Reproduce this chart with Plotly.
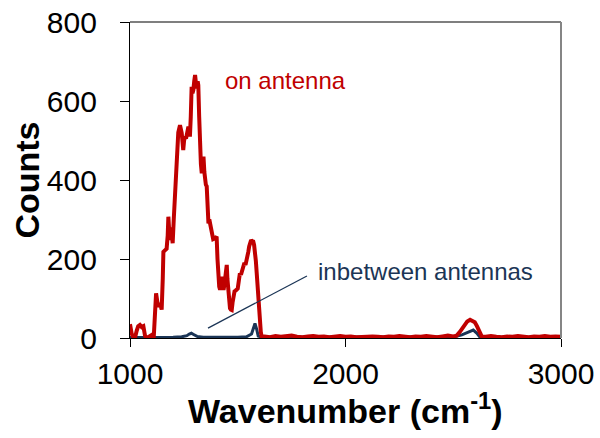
import plotly.graph_objects as go

# ---- data ----
on_x = [1000, 1008, 1016, 1023, 1031, 1038, 1046, 1054, 1062, 1070, 1079, 1090, 1102, 1110,
        1116, 1121, 1126, 1131, 1139, 1147, 1152, 1155, 1162, 1170, 1175, 1178, 1182, 1186,
        1190, 1194, 1198, 1203, 1209, 1213, 1217, 1224, 1232, 1236, 1240, 1244, 1247, 1251,
        1255, 1260, 1266, 1271, 1275, 1278, 1282, 1286, 1290, 1294, 1298, 1302, 1306, 1310,
        1314, 1317, 1321, 1325, 1329, 1333, 1337, 1341, 1345, 1348, 1352, 1356, 1360, 1364,
        1368, 1372, 1379, 1386, 1394, 1402, 1406, 1410, 1414, 1418, 1422, 1426, 1430, 1434,
        1438, 1442, 1449, 1452, 1456, 1460, 1464, 1468, 1472, 1476, 1480, 1485, 1490, 1495,
        1500, 1505, 1510, 1515, 1520, 1526, 1531, 1536, 1541, 1545, 1549, 1553, 1557, 1562,
        1567, 1572, 1576, 1580, 1584, 1588, 1592, 1595, 1599, 1603, 1607, 1611,
        1625, 1650, 1675, 1700, 1725, 1750, 1775, 1800, 1825, 1850, 1875, 1900, 1925, 1950,
        1975, 2000, 2025, 2050, 2075, 2100, 2125, 2150, 2175, 2200, 2225, 2250, 2275, 2300,
        2325, 2350, 2375, 2400, 2425, 2450, 2475, 2500,
        2516, 2530, 2545, 2555, 2565, 2578, 2590, 2600, 2610, 2620, 2632,
        2650, 2675, 2700, 2725, 2750, 2775, 2800, 2825, 2850, 2875, 2900, 2925, 2950, 2975, 3000]
on_y = [35, 10, 2, 0, 18, 30, 33, 28, 30, 5, 0, 3, 8, 0,
        60, 113, 95, 79, 88, 72, 150, 218, 222, 226, 260, 307, 270, 248,
        280, 266, 240, 300, 366, 430, 493, 520, 539, 530, 519, 495, 476, 500,
        510, 505, 520, 535, 525, 510, 560, 636, 620, 628, 650, 666, 645, 632,
        650, 640, 560, 459, 440, 417, 450, 459, 420, 392, 388, 384, 340, 290,
        300, 285, 265, 250, 252, 257, 200, 147, 130, 122, 140, 155, 130, 122,
        135, 150, 185, 150, 113, 90, 75, 72, 71, 90, 109, 118, 120, 122,
        125, 145, 164, 160, 175, 181, 190, 185, 198, 205, 218, 232, 244, 248,
        245, 244, 235, 222, 195, 164, 130, 97, 65, 37, 15, 3,
        4, 2, 5, 3, 4, 6, 3, 2, 4, 5, 3, 4, 2, 3,
        5, 3, 4, 2, 3, 5, 4, 3, 2, 4, 3, 5, 3, 2,
        4, 3, 5, 3, 2, 4, 6, 4,
        6, 15, 25, 35, 42, 46, 44, 40, 30, 18, 4,
        3, 5, 3, 2, 4, 3, 5, 3, 2, 4, 3, 5, 3, 4, 3]

between_x = [1000, 1050, 1100, 1150, 1200, 1240, 1264, 1275, 1285, 1295, 1311, 1340, 1400,
             1450, 1500, 1540, 1564, 1572, 1580, 1588, 1595, 1610, 1650, 1700, 1800, 1900,
             2000, 2100, 2200, 2300, 2400, 2480, 2510, 2540, 2570, 2593, 2610, 2624, 2660,
             2750, 2850, 2950, 3000]
between_y = [1, 1, 2, 2, 2, 3, 6, 10, 12, 9, 4, 2, 3,
             2, 2, 3, 10, 25, 37, 22, 5, 2, 2, 2, 2, 2,
             2, 2, 2, 2, 2, 3, 4, 8, 15, 20, 12, 2, 2,
             2, 2, 2, 2]

series_names = ["on antenna", "inbetween antennas"]
x_ticks = [1000, 2000, 3000]
y_ticks = [0, 200, 400, 600, 800]

RED = "#C00000"
NAVY = "#1B3556"
FONT = "Liberation Sans, Arial, sans-serif"

fig = go.Figure()
fig.add_trace(go.Scatter(x=between_x, y=between_y, mode="lines", name=series_names[1],
                         line=dict(color=NAVY, width=3)))
fig.add_trace(go.Scatter(x=on_x, y=on_y, mode="lines", name=series_names[0],
                         line=dict(color=RED, width=4)))

fig.update_layout(
    width=600, height=438,
    margin=dict(l=130, r=39, t=22, b=100),
    paper_bgcolor="white", plot_bgcolor="white",
    showlegend=False,
    font=dict(family=FONT, color="black"),
    xaxis=dict(range=[1000, 3000], tickvals=x_ticks, ticktext=[str(v) for v in x_ticks],
               showline=True, linecolor="black", linewidth=1.3, ticks="outside",
               ticklen=8, tickcolor="black", tickwidth=1.3, showgrid=False, zeroline=False,
               tickfont=dict(size=30, family=FONT), ticklabelstandoff=1, automargin=False),
    yaxis=dict(range=[0, 800], tickvals=y_ticks, ticktext=[str(v) for v in y_ticks],
               showline=True, linecolor="black", linewidth=1.3, ticks="outside",
               ticklen=9, tickcolor="black", tickwidth=1.3, showgrid=False, zeroline=False,
               tickfont=dict(size=30, family=FONT), ticklabelstandoff=17, automargin=False),
    shapes=[
        dict(type="line", xref="paper", yref="paper", x0=0, x1=1, y0=1, y1=1,
             line=dict(color="#555555", width=1.5)),
        dict(type="line", xref="paper", yref="paper", x0=1, x1=1, y0=0, y1=1,
             line=dict(color="#858585", width=2)),
        dict(type="line", xref="x", yref="y", x0=1362, y0=25, x1=1821, y1=157,
             line=dict(color=NAVY, width=1.3)),
    ],
    annotations=[
        dict(text=series_names[0], x=1430, y=653, xref="x", yref="y", xanchor="left",
             yanchor="middle", showarrow=False, font=dict(size=24, color=RED, family=FONT)),
        dict(text=series_names[1], x=1865, y=168, xref="x", yref="y", xanchor="left",
             yanchor="middle", showarrow=False, font=dict(size=24, color=NAVY, family=FONT)),
        dict(text="<b>Wavenumber (cm<sup>-1</sup>)</b>", x=0.501, y=-0.222, xref="paper",
             yref="paper", xanchor="center", yanchor="middle", showarrow=False,
             font=dict(size=34, family=FONT, color="black")),
        dict(text="<b>Counts</b>", x=-0.24, y=0.5, xref="paper", yref="paper",
             xanchor="center", yanchor="middle", textangle=-90, showarrow=False,
             font=dict(size=34, family=FONT, color="black")),
    ],
)

fig.write_html("out.html", config={"displayModeBar": False},
               post_script="document.body.style.margin='0';")
